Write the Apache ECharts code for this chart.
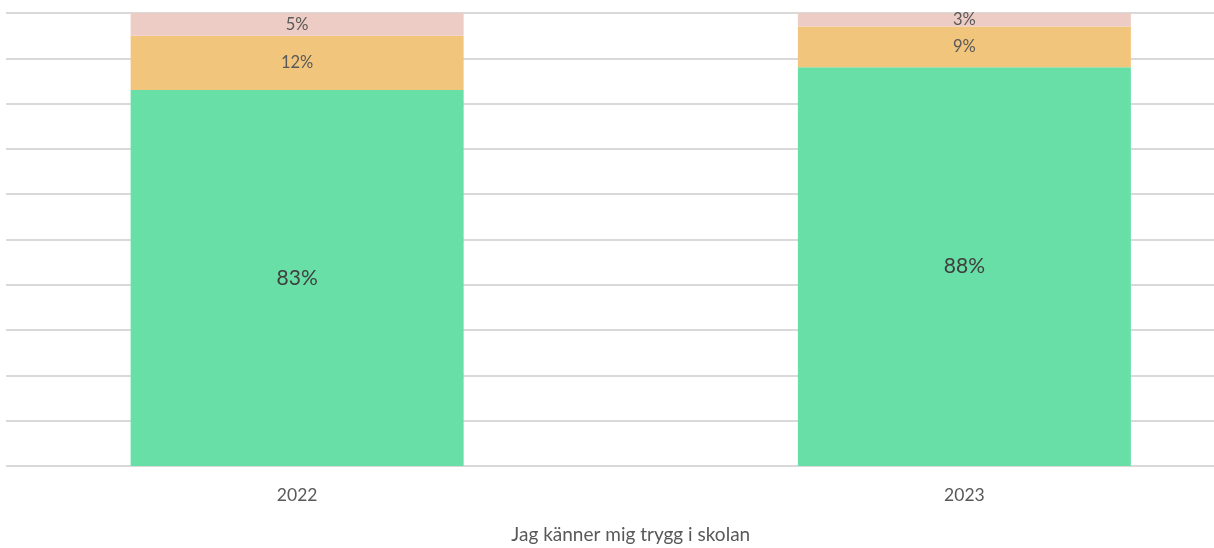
<!DOCTYPE html>
<html>
<head>
<meta charset="utf-8">
<script src="https://cdn.jsdelivr.net/npm/echarts@6/dist/echarts.min.js"></script>
<style>
  html, body { margin: 0; padding: 0; background: #ffffff; }
  #chart { width: 1214px; height: 548px; }
</style>
</head>
<body>
<div id="chart"></div>
<script>
// Survey answers per year, share of respondents in percent
const years = ['2022', '2023'];
const agree = [83, 88];
const neutral = [12, 9];
const disagree = [5, 3];
const yTicks = [0, 10, 20, 30, 40, 50, 60, 70, 80, 90, 100];
const axisTitle = 'Jag känner mig trygg i skolan';

const FONT = 'Lato, "Noto Sans", sans-serif';

const chart = echarts.init(document.getElementById('chart'), null, { renderer: 'canvas' });

function pctLabel(size, color) {
  return {
    show: true,
    position: 'inside',
    formatter: p => p.value + '%',
    fontFamily: FONT,
    fontSize: size,
    color: color
  };
}

chart.setOption({
  animation: false,
  backgroundColor: '#ffffff',
  grid: [
    // horizontal gridlines
    { left: 6, right: 0, top: 13, bottom: 82, outerBoundsMode: 'none' },
    // bars (plot area runs past the canvas edges)
    { left: -36.5, width: 1334.5, top: 13, bottom: 82, outerBoundsMode: 'none' }
  ],
  xAxis: [
    { gridIndex: 0, type: 'category', data: years, show: false },
    {
      gridIndex: 1,
      type: 'category',
      data: years,
      axisLine: { show: false },
      axisTick: { show: false },
      axisLabel: { fontFamily: FONT, fontSize: 17.5, color: '#595959', margin: 20 },
      name: axisTitle,
      nameLocation: 'middle',
      nameGap: 59,
      nameTextStyle: { fontFamily: FONT, fontSize: 19, color: '#595959' }
    }
  ],
  yAxis: [
    {
      gridIndex: 0,
      type: 'value',
      min: 0,
      max: yTicks[yTicks.length - 1],
      interval: yTicks[1] - yTicks[0],
      axisLine: { show: false },
      axisTick: { show: false },
      axisLabel: { show: false },
      splitLine: { show: true, lineStyle: { color: '#d9d9d9', width: 2 } }
    },
    {
      gridIndex: 1,
      type: 'value',
      min: 0,
      max: yTicks[yTicks.length - 1],
      interval: yTicks[1] - yTicks[0],
      show: false,
      splitLine: { show: false }
    }
  ],
  series: [
    {
      name: 'agree',
      type: 'bar',
      stack: 'total',
      xAxisIndex: 1,
      yAxisIndex: 1,
      barWidth: 333,
      data: agree,
      itemStyle: { color: '#67dfa6' },
      label: pctLabel(21, '#404040')
    },
    {
      name: 'neutral',
      type: 'bar',
      stack: 'total',
      xAxisIndex: 1,
      yAxisIndex: 1,
      barWidth: 333,
      data: neutral,
      itemStyle: { color: '#f2c57d' },
      label: pctLabel(16.5, '#595959')
    },
    {
      name: 'disagree',
      type: 'bar',
      stack: 'total',
      xAxisIndex: 1,
      yAxisIndex: 1,
      barWidth: 333,
      data: disagree,
      itemStyle: { color: '#ecccc4' },
      label: pctLabel(16.5, '#595959')
    }
  ]
});
</script>
</body>
</html>
